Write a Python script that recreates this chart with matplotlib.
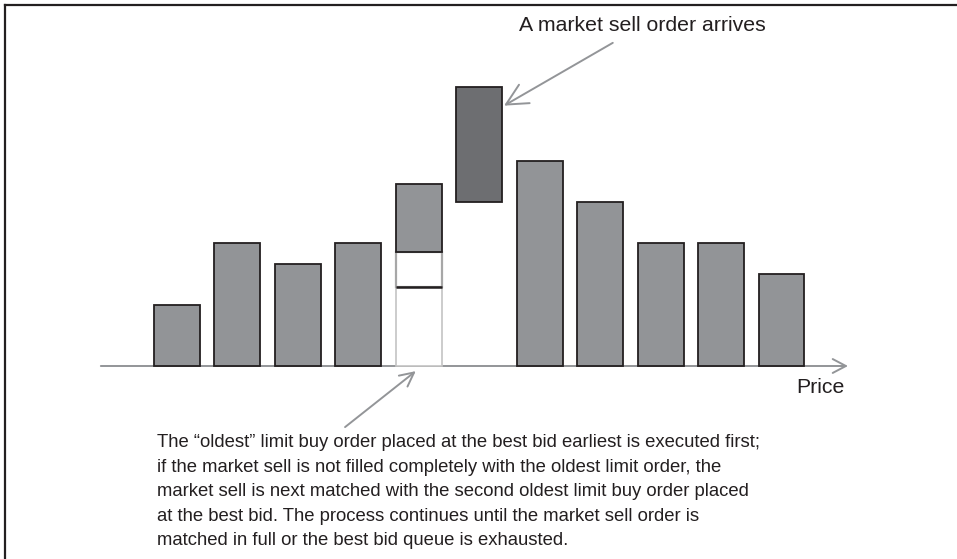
import matplotlib
matplotlib.use("Agg")
import matplotlib.pyplot as plt
from matplotlib.lines import Line2D
import numpy as np

# ---- data (arbitrary depth units) ----
bid_levels = [0, 1, 2, 3, 4]            # price level index of bids
bid_depth = [3.0, 6.0, 5.0, 6.0]        # full bid queues (levels 0-3)
best_bid_oldest = 3.85                  # oldest order at best bid (executed)
best_bid_second = 1.7                   # second oldest order at best bid
best_bid_rest = 3.35                    # remaining queue at best bid
market_level = 5
market_bottom = 8.0
market_size = 5.6
ask_levels = [6, 7, 8, 9, 10]
ask_depth = [10.0, 8.0, 6.0, 6.0, 4.5]

title_text = "A market sell order arrives"
axis_label = "Price"
note_text = ("The \u201coldest\u201d limit buy order placed at the best bid earliest is executed first;\n"
             "if the market sell is not filled completely with the oldest limit order, the\n"
             "market sell is next matched with the second oldest limit buy order placed\n"
             "at the best bid. The process continues until the market sell order is\n"
             "matched in full or the best bid queue is exhausted.")

# ---- style ----
plt.rcParams['font.family'] = ['Liberation Sans', 'DejaVu Sans']
TXT = '#231f20'
EDGE = '#231f20'
FILL = '#929497'
DARK = '#6d6e71'
GREY = '#939598'
FS = 15.3
FS_NOTE = 13.35

W, H = 957, 559
fig = plt.figure(figsize=(W / 100, H / 100), dpi=100)
ax = fig.add_axes([0, 0, 1, 1])
ax.set_axis_off()

px_per_x = 60.45
px_per_y = 20.5
x0_px = 177
base_px = 366  # from top
ax.set_xlim(-x0_px / px_per_x, (W - x0_px) / px_per_x)
ax.set_ylim(-(H - base_px) / px_per_y, base_px / px_per_y)

bw = 0.76

# frame (left + top)
fig.add_artist(Line2D([5 / W, 5 / W], [0, 1 - 5 / H], color=EDGE, lw=1.6, transform=fig.transFigure))
fig.add_artist(Line2D([5 / W, 1], [1 - 5 / H, 1 - 5 / H], color=EDGE, lw=1.6, transform=fig.transFigure))

# price axis with open arrow
ax.annotate('', xy=(11.1, 0), xytext=(-1.26, 0),
            arrowprops=dict(arrowstyle='->,head_length=0.95,head_width=0.5', color=GREY, lw=1.4,
                            shrinkA=0, shrinkB=0), zorder=1)
ax.text(10.65, -1.05, axis_label, ha='center', va='center', fontsize=FS, color=TXT)

# full bid bars
ax.bar(bid_levels[:4], bid_depth, width=bw, color=FILL, edgecolor=EDGE, lw=1.3, zorder=3)
# best bid queue split into orders
bb = bid_levels[4]
ax.bar(bb, best_bid_oldest, width=bw, color='white', edgecolor='#c4c4c4', lw=1.2, zorder=3)
ax.bar(bb, best_bid_second, bottom=best_bid_oldest, width=bw, color='white',
       edgecolor='#a7a7a7', lw=1.6, zorder=3)
ax.bar(bb, best_bid_rest, bottom=best_bid_oldest + best_bid_second, width=bw, color=FILL,
       edgecolor=EDGE, lw=1.3, zorder=4)
ax.hlines(best_bid_oldest, bb - bw / 2, bb + bw / 2, color=EDGE, lw=1.8, zorder=5)

# market sell order
ax.bar(market_level, market_size, bottom=market_bottom, width=bw, color=DARK, edgecolor=EDGE,
       lw=1.3, zorder=3)
# ask bars
ax.bar(ask_levels, ask_depth, width=bw, color=FILL, edgecolor=EDGE, lw=1.3, zorder=3)

# annotations
ax.annotate(title_text, xy=(market_level + bw / 2 + 0.03, market_bottom + market_size - 0.9),
            xytext=(7.7, 16.6), ha='center', va='center', fontsize=FS, color=TXT,
            arrowprops=dict(arrowstyle='->,head_length=1.0,head_width=0.5', color=GREY, lw=1.4,
                            shrinkA=7, shrinkB=0))
ax.annotate('', xy=(bb - 0.05, -0.25), xytext=(2.78, -2.98),
            arrowprops=dict(arrowstyle='->,head_length=1.0,head_width=0.5', color=GREY, lw=1.4,
                            shrinkA=0, shrinkB=0))
ax.text(-0.33, -3.33, note_text, ha='left', va='top', fontsize=FS_NOTE, color=TXT, linespacing=1.58)

fig.savefig('out.png', dpi=100, facecolor='white')
